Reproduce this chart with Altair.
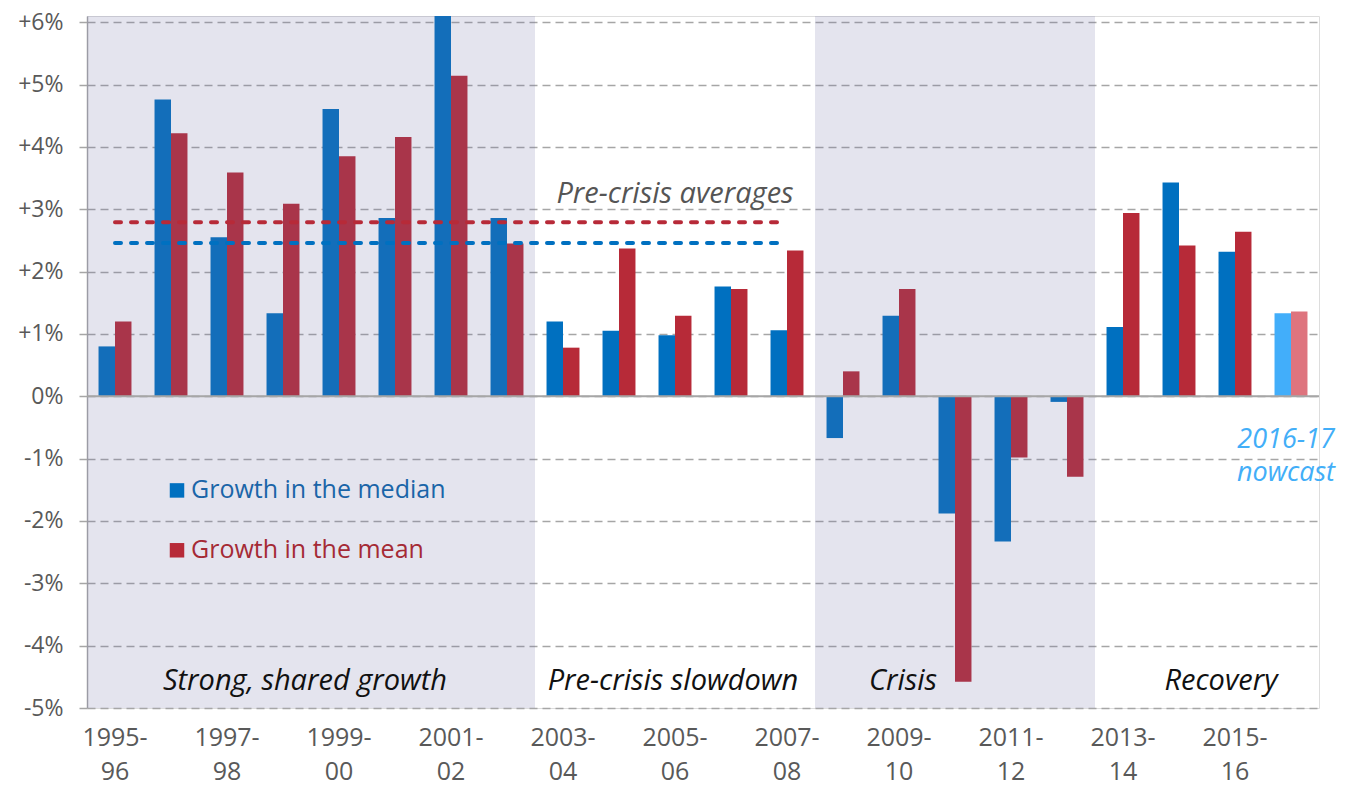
import altair as alt
import pandas as pd

years = ["1995-96", "1996-97", "1997-98", "1998-99", "1999-00", "2000-01",
         "2001-02", "2002-03", "2003-04", "2004-05", "2005-06", "2006-07",
         "2007-08", "2008-09", "2009-10", "2010-11", "2011-12", "2012-13",
         "2013-14", "2014-15", "2015-16", "2016-17"]
median_growth = [0.80, 4.76, 2.55, 1.33, 4.61, 2.86, 6.30, 2.86, 1.20, 1.05, 0.98,
                 1.76, 1.06, -0.67, 1.29, -1.88, -2.33, -0.09, 1.11, 3.43, 2.32, 1.33]
mean_growth = [1.20, 4.22, 3.59, 3.09, 3.85, 4.16, 5.14, 2.45, 0.78, 2.37, 1.29,
               1.72, 2.34, 0.40, 1.72, -4.58, -0.98, -1.29, 2.94, 2.42, 2.64, 1.36]
nowcast_year = "2016-17"
avg_median = 2.46
avg_mean = 2.79
avg_span = ["1995-96", "2007-08"]
shaded_years = years[0:8] + years[13:18]
y_ticks = [-5, -4, -3, -2, -1, 0, 1, 2, 3, 4, 5, 6]

FONT = "Open Sans"
Y_SCALE = alt.Scale(domain=[-5, 6.1], nice=False, clamp=True)

rows = []
for i, yr in enumerate(years):
    for s, vals in (("median", median_growth), ("mean", mean_growth)):
        key = s + ("_now" if yr == nowcast_year else "")
        rows.append({"year": yr, "series": s, "value": vals[i], "key": key})
bars_df = pd.DataFrame(rows)

x_enc = alt.X(
    "year:N", sort=years, title=None,
    scale=alt.Scale(domain=years, paddingInner=0, paddingOuter=0),
    axis=alt.Axis(values=years[::2],
                  labelExpr="[slice(datum.value,0,5), slice(datum.value,5)]",
                  labelFont=FONT, labelFontSize=25, labelColor="#595959",
                  labelAngle=0, labelPadding=17, ticks=False, domain=False,
                  grid=False, labelLineHeight=34),
)

bars = alt.Chart(bars_df).mark_bar().encode(
    x=x_enc,
    xOffset=alt.XOffset("series:N", sort=["median", "mean"],
                        scale=alt.Scale(domain=["median", "mean"], paddingOuter=0.7, paddingInner=0)),
    y=alt.Y("value:Q", scale=Y_SCALE, title=None,
            axis=alt.Axis(values=y_ticks,
                          labelExpr="datum.value > 0 ? '+' + datum.value + '%' : datum.value + '%'",
                          labelFont=FONT, labelFontSize=23, labelColor="#595959",
                          tickSize=8, tickColor="#A6A6A6", tickWidth=1.5,
                          labelPadding=16, domainColor="#A6A6A6", domainWidth=1.5,
                          grid=True, gridDash=[8, 5], gridColor="#A6A6A6", gridWidth=1.5)),
    color=alt.Color("key:N", legend=None,
                    scale=alt.Scale(domain=["median", "mean", "median_now", "mean_now"],
                                    range=["#0070C0", "#B72A38", "#42AEFA", "#DE747E"])),
)

shade = alt.Chart(pd.DataFrame({"year": shaded_years})).mark_rect(
    color="#69699F", opacity=0.18
).encode(
    x=alt.X("year:N", sort=years),
    y=alt.Y(datum=6.1, type="quantitative", scale=Y_SCALE),
    y2=alt.Y2(datum=-5),
)

zero = alt.Chart(pd.DataFrame({"v": [0]})).mark_rule(color="#A6A6A6", strokeWidth=2).encode(
    y=alt.Y("v:Q", scale=Y_SCALE)
)

avg_df = pd.DataFrame({
    "year": avg_span * 2,
    "value": [avg_mean, avg_mean, avg_median, avg_median],
    "series": ["mean", "mean", "median", "median"],
})
avg_lines = alt.Chart(avg_df).mark_line(strokeWidth=4, strokeDash=[6, 10], strokeCap="round").encode(
    x=alt.X("year:N", sort=years),
    y=alt.Y("value:Q", scale=Y_SCALE),
    detail="series:N",
    color=alt.Color("series:N", legend=None,
                    scale=alt.Scale(domain=["median", "mean"], range=["#0070C0", "#B72A38"])),
)

avg_label = alt.Chart(pd.DataFrame({"t": ["Pre-crisis averages"], "v": [3.25]})).mark_text(
    font=FONT, fontSize=29, fontStyle="italic", color="#555555", align="center", baseline="middle"
).encode(x=alt.value(588), y=alt.Y("v:Q", scale=Y_SCALE), text="t:N")

periods = ["Strong, shared growth", "Pre-crisis slowdown", "Crisis", "Recovery"]
period_x = [218, 586, 816, 1134]
period_df = pd.DataFrame({"t": periods, "px": period_x, "v": [-4.56] * 4})
period_labels = alt.Chart(period_df).mark_text(
    font=FONT, fontSize=29, fontStyle="italic", color="#111111", align="center", baseline="middle"
).encode(x=alt.X("px:Q", scale=None), y=alt.Y("v:Q", scale=Y_SCALE), text="t:N")

now_df = pd.DataFrame({"t": ["2016-17", "nowcast"], "v": [-0.70, -1.23]})
now_labels = alt.Chart(now_df).mark_text(
    font=FONT, fontSize=27, fontStyle="italic", color="#42AEF8", align="right", baseline="middle"
).encode(x=alt.value(1248), y=alt.Y("v:Q", scale=Y_SCALE), text="t:N")

legend_df = pd.DataFrame({
    "t": ["Growth in the median", "Growth in the mean"],
    "v": [-1.51, -2.47],
    "series": ["median", "mean"],
})
legend_sq = alt.Chart(legend_df).mark_square(size=210, opacity=1).encode(
    x=alt.value(90), y=alt.Y("v:Q", scale=Y_SCALE),
    color=alt.Color("series:N", legend=None,
                    scale=alt.Scale(domain=["median", "mean"], range=["#0070C0", "#B72A38"])),
)
legend_txt = alt.Chart(legend_df).mark_text(
    font=FONT, fontSize=25, align="left", baseline="middle"
).encode(
    x=alt.value(104), y=alt.Y("v:Q", scale=Y_SCALE), text="t:N",
    color=alt.Color("series:N", legend=None,
                    scale=alt.Scale(domain=["median", "mean"], range=["#1A65A8", "#A52A35"])),
)

chart = alt.layer(
    bars, shade, zero, avg_lines, avg_label, period_labels, now_labels, legend_sq, legend_txt
).resolve_scale(color="independent").properties(
    width=1232, height=692,
    padding={"left": 79, "top": 8, "right": 26, "bottom": 80},
    autosize=alt.AutoSizeParams(type="none"),
).configure_view(stroke=None).configure(background="white")

chart.save("out.html", embed_options={"renderer": "svg", "actions": False})
